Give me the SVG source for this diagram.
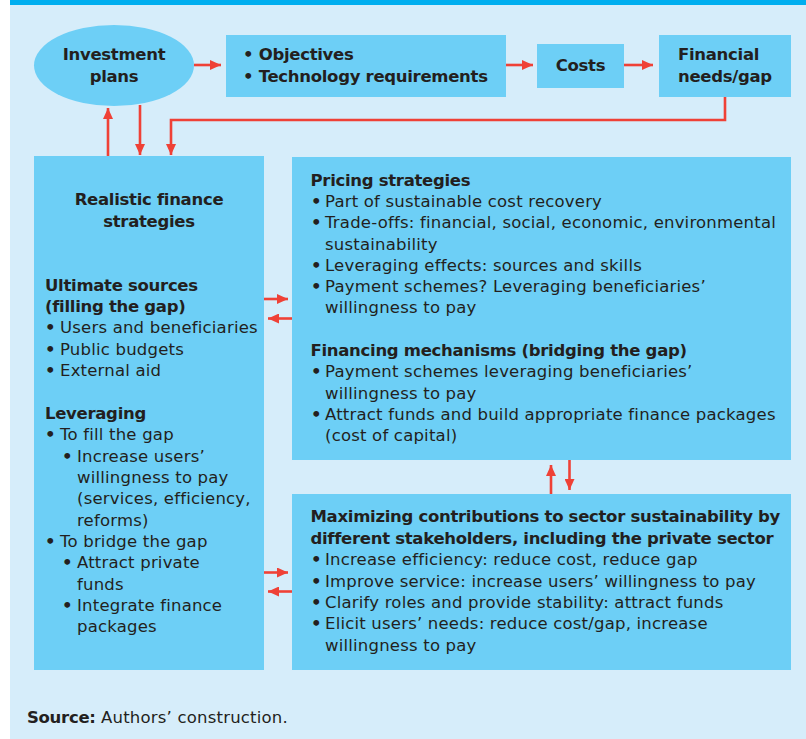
<svg xmlns="http://www.w3.org/2000/svg" width="806" height="739" viewBox="0 0 806 739">
<defs>
<style>
.bg{fill:#d6edfa}
.bar{fill:#00aeef}
.box{fill:#6dcff6}
text{font-family:"DejaVu Sans",Verdana,sans-serif;font-size:16.5px;letter-spacing:0.2px;fill:#231f20}
.b{font-weight:bold;letter-spacing:-0.3px}
.c{text-anchor:middle}
.d{font-weight:bold}
.ln{stroke:#ef4136;stroke-width:2.6;fill:none}
</style>
<marker id="ah" markerUnits="userSpaceOnUse" markerWidth="11" markerHeight="10" refX="11" refY="5" orient="auto">
<path d="M0,0 L11,5 L0,10 Z" fill="#ef4136"/>
</marker>
</defs>
<rect class="bg" x="10" y="0" width="796" height="739"/>
<rect class="bar" x="10" y="0" width="796" height="5"/>

<g id="investment">
<ellipse class="box" cx="114" cy="65.5" rx="80" ry="40.5"/>
<text class="b c"><tspan x="114" y="60">Investment</tspan><tspan x="114" y="81.7">plans</tspan></text>
</g>
<g id="objectives">
<rect class="box" x="226" y="35" width="280" height="62"/>
<text class="b"><tspan x="243" y="60">• Objectives</tspan><tspan x="243" y="81.7">• Technology requirements</tspan></text>
</g>
<g id="costs">
<rect class="box" x="537" y="44" width="87" height="44"/>
<text class="b c" x="580.5" y="70.7">Costs</text>
</g>
<g id="financial">
<rect class="box" x="659" y="35" width="132" height="62"/>
<text class="b"><tspan x="678" y="60">Financial</tspan><tspan x="678" y="81.7">needs/gap</tspan></text>
</g>

<g id="realistic">
<rect class="box" x="34" y="156" width="230" height="514"/>
<text class="b c"><tspan x="149" y="205">Realistic finance</tspan><tspan x="149" y="226.7">strategies</tspan></text>
<text>
<tspan class="b" x="45" y="290.7">Ultimate sources</tspan>
<tspan class="b" x="45" y="312.3">(filling the gap)</tspan>
<tspan class="d" x="45" y="333.3">•</tspan><tspan x="60" y="333.3">Users and beneficiaries</tspan>
<tspan class="d" x="45" y="354.5">•</tspan><tspan x="60" y="354.5">Public budgets</tspan>
<tspan class="d" x="45" y="375.7">•</tspan><tspan x="60" y="375.7">External aid</tspan>
</text>
<text>
<tspan class="b" x="45" y="419">Leveraging</tspan>
<tspan class="d" x="45" y="440.3">•</tspan><tspan x="60" y="440.3">To fill the gap</tspan>
<tspan class="d" x="62" y="461.7">•</tspan><tspan x="77" y="461.7">Increase users’</tspan>
<tspan x="77" y="483">willingness to pay</tspan>
<tspan x="77" y="504.3">(services, efficiency,</tspan>
<tspan x="77" y="525.7">reforms)</tspan>
<tspan class="d" x="45" y="546.9">•</tspan><tspan x="60" y="546.9">To bridge the gap</tspan>
<tspan class="d" x="62" y="568.2">•</tspan><tspan x="77" y="568.2">Attract private</tspan>
<tspan x="77" y="589.5">funds</tspan>
<tspan class="d" x="62" y="610.9">•</tspan><tspan x="77" y="610.9">Integrate finance</tspan>
<tspan x="77" y="632.3">packages</tspan>
</text>
</g>

<g id="pricing">
<rect class="box" x="292" y="157" width="499" height="303"/>
<text>
<tspan class="b" x="310.5" y="185.7">Pricing strategies</tspan>
<tspan class="d" x="311" y="207">•</tspan><tspan x="325" y="207">Part of sustainable cost recovery</tspan>
<tspan class="d" x="311" y="228.3">•</tspan><tspan x="325" y="228.3">Trade-offs: financial, social, economic, environmental</tspan>
<tspan x="325" y="249.5">sustainability</tspan>
<tspan class="d" x="311" y="270.8">•</tspan><tspan x="325" y="270.8">Leveraging effects: sources and skills</tspan>
<tspan class="d" x="311" y="292">•</tspan><tspan x="325" y="292">Payment schemes? Leveraging beneficiaries’</tspan>
<tspan x="325" y="313.3">willingness to pay</tspan>
</text>
<text>
<tspan class="b" x="310.5" y="356">Financing mechanisms (bridging the gap)</tspan>
<tspan class="d" x="311" y="377.3">•</tspan><tspan x="325" y="377.3">Payment schemes leveraging beneficiaries’</tspan>
<tspan x="325" y="398.6">willingness to pay</tspan>
<tspan class="d" x="311" y="419.9">•</tspan><tspan x="325" y="419.9">Attract funds and build appropriate finance packages</tspan>
<tspan x="325" y="441.2">(cost of capital)</tspan>
</text>
</g>

<g id="maximizing">
<rect class="box" x="292" y="494" width="499" height="176"/>
<text>
<tspan class="b" x="310.5" y="522">Maximizing contributions to sector sustainability by</tspan>
<tspan class="b" x="310.5" y="543.6">different stakeholders, including the private sector</tspan>
<tspan class="d" x="311" y="565.2">•</tspan><tspan x="325" y="565.2">Increase efficiency: reduce cost, reduce gap</tspan>
<tspan class="d" x="311" y="586.6">•</tspan><tspan x="325" y="586.6">Improve service: increase users’ willingness to pay</tspan>
<tspan class="d" x="311" y="608">•</tspan><tspan x="325" y="608">Clarify roles and provide stability: attract funds</tspan>
<tspan class="d" x="311" y="629.3">•</tspan><tspan x="325" y="629.3">Elicit users’ needs: reduce cost/gap, increase</tspan>
<tspan x="325" y="650.7">willingness to pay</tspan>
</text>
</g>

<g id="connectors">
<line class="ln" x1="194" y1="65" x2="221" y2="65" marker-end="url(#ah)"/>
<line class="ln" x1="506" y1="65" x2="533" y2="65" marker-end="url(#ah)"/>
<line class="ln" x1="624" y1="65" x2="653" y2="65" marker-end="url(#ah)"/>
<polyline class="ln" points="725,97 725,120 171,120 171,155" marker-end="url(#ah)"/>
<line class="ln" x1="140" y1="105" x2="140" y2="155" marker-end="url(#ah)"/>
<line class="ln" x1="108" y1="156" x2="108" y2="108" marker-end="url(#ah)"/>
<line class="ln" x1="264" y1="299" x2="288" y2="299" marker-end="url(#ah)"/>
<line class="ln" x1="292" y1="318.5" x2="268" y2="318.5" marker-end="url(#ah)"/>
<line class="ln" x1="264" y1="572.5" x2="288" y2="572.5" marker-end="url(#ah)"/>
<line class="ln" x1="292" y1="591.5" x2="268" y2="591.5" marker-end="url(#ah)"/>
<line class="ln" x1="551" y1="494" x2="551" y2="465" marker-end="url(#ah)"/>
<line class="ln" x1="569.5" y1="460" x2="569.5" y2="490" marker-end="url(#ah)"/>
</g>

<text x="27" y="723.3"><tspan class="b">Source:</tspan> Authors’ construction.</text>
</svg>
